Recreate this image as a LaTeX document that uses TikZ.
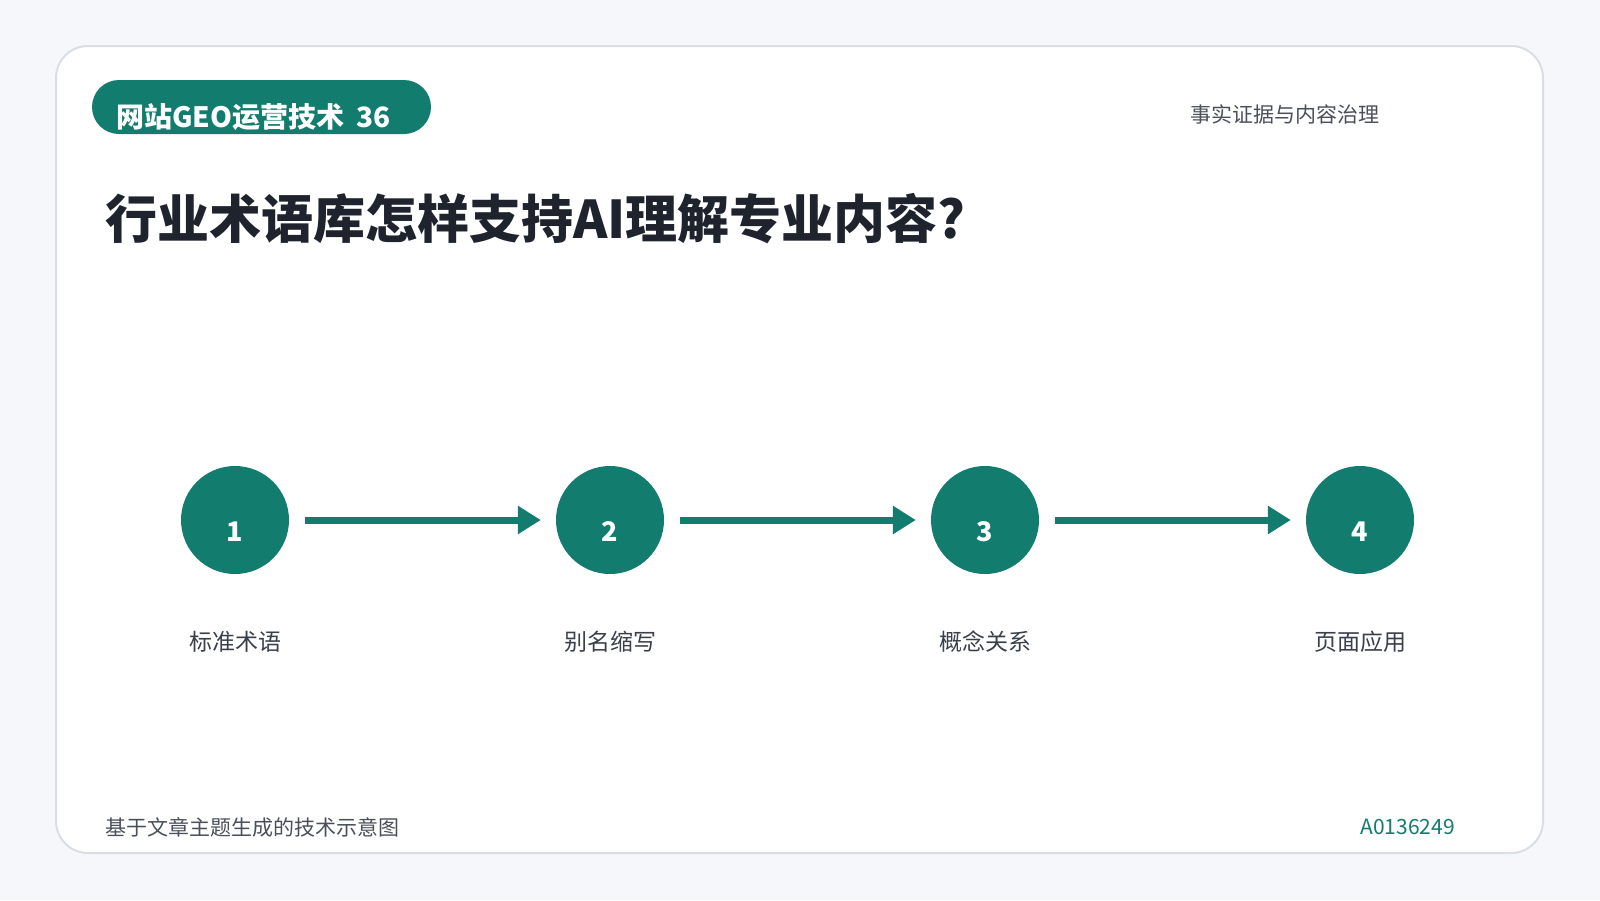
\documentclass[tikz,border=0pt]{standalone}
\usepackage{fontspec}
\setmainfont{Noto Sans CJK SC}
\usetikzlibrary{arrows.meta}
\definecolor{pagebg}{HTML}{F5F7FA}
\definecolor{cardline}{HTML}{D9DEE6}
\definecolor{teal}{HTML}{127C6E}
\definecolor{titlecol}{HTML}{1E232D}
\definecolor{graytext}{HTML}{4A505B}
\definecolor{labtext}{HTML}{3A404B}
\tikzset{
  stepcirc/.style={circle, fill=teal, minimum size=108pt, inner sep=0pt},
  stepnum/.style={text=white, font=\fontsize{27}{30}\selectfont\bfseries, inner sep=0pt},
  steplab/.style={text=labtext, font=\fontsize{23}{26}\selectfont, inner sep=0pt},
  flow/.style={draw=teal, line width=7pt, -{Triangle[length=23pt,width=27pt]}, shorten >=0pt}
}
\begin{document}
\begin{tikzpicture}[x=1pt,y=-1pt]
\useasboundingbox (0,0) rectangle (1600,900);
\fill[pagebg] (0,0) rectangle (1600,900);
% card
\draw[cardline, line width=2pt, fill=white, rounded corners=32pt] (56,46) rectangle (1543,853);
% badge
\fill[teal, rounded corners=27pt] (92,80) rectangle (431,134);
\node[anchor=base west, text=white, inner sep=0pt, font=\fontsize{28}{32}\selectfont\bfseries] (badge) at (116,127) {网站GEO运营技术\hspace{0.45em}36};
% top right
\node[anchor=west, text=graytext, inner sep=0pt, font=\fontsize{21}{24}\selectfont] (topic) at (1190,114) {事实证据与内容治理};
% title
\node[anchor=west, text=titlecol, inner sep=0pt, font=\fontsize{52}{58}\selectfont\bfseries] (title) at (105,219) {行业术语库怎样支持AI理解专业内容?};
% steps
\foreach \i/\t in {1/标准术语,2/别名缩写,3/概念关系,4/页面应用}{
  \pgfmathsetmacro{\cx}{235+375*(\i-1)}
  \node[stepcirc] (c\i) at (\cx,520) {};
  \node[stepnum] (n\i) at (\cx,532) {\i};
  \node[steplab] (l\i) at (\cx,642) {\t};
}
\foreach \a/\b in {1/2,2/3,3/4}{
  \draw[flow] ([xshift=16pt]c\a.east) -- ([xshift=-15pt]c\b.west);
}
% footer
\node[anchor=west, text=graytext, inner sep=0pt, font=\fontsize{21}{24}\selectfont] (foot) at (105,827) {基于文章主题生成的技术示意图};
\node[anchor=east, text=teal, inner sep=0pt, font=\fontsize{21}{24}\selectfont] (code) at (1455,827) {A0136249};
\end{tikzpicture}
\end{document}
